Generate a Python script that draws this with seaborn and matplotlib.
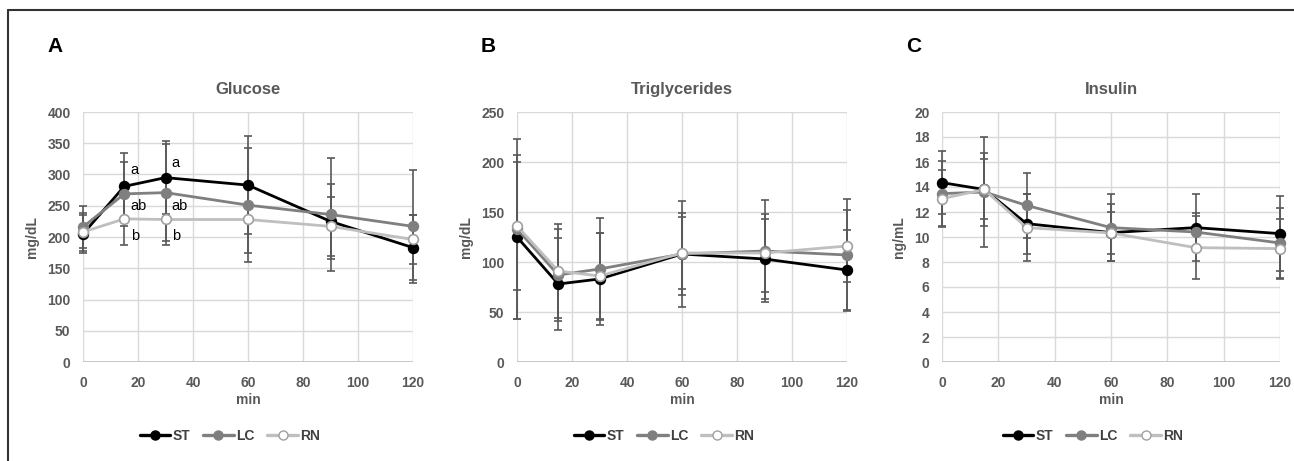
import numpy as np
import pandas as pd
import matplotlib
matplotlib.use("Agg")
import matplotlib.pyplot as plt
import seaborn as sns
from matplotlib.lines import Line2D

# sampling times (min)
times = [0, 15, 30, 60, 90, 120]
groups = ["ST", "LC", "RN"]

# Glucose (mg/dL), mean and SD
glu_st = [205, 281, 295, 283, 225, 183]
glu_lc = [216, 269, 271, 251, 236, 217]
glu_rn = [208, 229, 228, 228, 217, 196]
glu_st_sd = [30, 53, 58, 79, 60, 52]
glu_lc_sd = [34, 51, 78, 91, 90, 90]
glu_rn_sd = [30, 41, 40, 53, 47, 39]

# Triglycerides (mg/dL)
tg_st = [125, 78, 83, 108, 103, 92]
tg_lc = [133, 87, 93, 108, 111, 107]
tg_rn = [136, 91, 86, 109, 109, 116]
tg_st_sd = [82, 46, 46, 41, 40, 40]
tg_lc_sd = [90, 46, 51, 53, 51, 56]
tg_rn_sd = [64, 47, 43, 36, 39, 36]

# Insulin (ng/mL)
ins_st = [14.35, 13.8, 11.07, 10.35, 10.75, 10.27]
ins_lc = [13.47, 13.6, 12.53, 10.75, 10.4, 9.52]
ins_rn = [13.07, 13.8, 10.75, 10.32, 9.15, 9.07]
ins_st_sd = [2.5, 2.9, 2.4, 2.3, 2.7, 3.0]
ins_lc_sd = [2.6, 4.4, 2.6, 2.7, 1.5, 2.8]
ins_rn_sd = [2.3, 2.4, 2.7, 1.7, 2.5, 2.4]

# significance letters on glucose panel
sig_times = [15, 15, 15, 30, 30, 30]
sig_vals = [307, 250, 201, 318, 250, 201]
sig_text = ["a", "ab", "b", "a", "ab", "b"]

sns.set_style("white")
plt.rcParams["font.family"] = ["Liberation Sans", "DejaVu Sans"]

W, H = 1294, 461
fig = plt.figure(figsize=(W / 100, H / 100), dpi=100)

line_col = {"ST": "#000000", "LC": "#7f7f7f", "RN": "#bfbfbf"}
face_col = {"ST": "#000000", "LC": "#7f7f7f", "RN": "#ffffff"}
edge_col = {"ST": "#000000", "LC": "#7f7f7f", "RN": "#a0a0a0"}
txt_grey = "#595959"
err_col = "#595959"


def make_df(st, lc, rn):
    rows = []
    for g, vals in zip(groups, [st, lc, rn]):
        for t, v in zip(times, vals):
            rows.append({"min": t, "group": g, "value": v})
    return pd.DataFrame(rows)


def draw_panel(px_left, px_right, letter, title, ylabel, means, sds, ymax, ystep):
    ax = fig.add_axes([px_left / W, (H - 362) / H, (px_right - px_left) / W, 250 / H])
    df = make_df(*means)
    for g, m, s in zip(groups, means, sds):
        ax.errorbar(times, m, yerr=s, fmt="none", ecolor=err_col, elinewidth=1.2,
                    capsize=3, capthick=1.2, zorder=2, clip_on=False)
    for g in groups:
        sns.lineplot(data=df[df["group"] == g], x="min", y="value", ax=ax,
                     color=line_col[g], linewidth=2, marker="o", markersize=7,
                     markerfacecolor=face_col[g], markeredgecolor=edge_col[g],
                     markeredgewidth=1.2, zorder=3, clip_on=False, legend=False)
    ax.set_xlim(0, 120)
    ax.set_ylim(0, ymax)
    ax.set_xticks(np.arange(0, 121, 20))
    ax.set_yticks(np.arange(0, ymax + ystep / 2, ystep))
    ax.grid(True, color="#d9d9d9", linewidth=1)
    for sp in ax.spines.values():
        sp.set_visible(False)
    ax.axhline(0, color="#bfbfbf", linewidth=1.2, zorder=1)
    ax.tick_params(length=0, labelsize=10, labelcolor=txt_grey)
    ax.tick_params(axis="x", pad=10)
    ax.tick_params(axis="y", pad=9)
    for lab in ax.get_xticklabels() + ax.get_yticklabels():
        lab.set_fontweight("bold")
    ax.set_xlabel("min", fontsize=10, fontweight="bold", color=txt_grey, labelpad=2)
    ax.set_ylabel(ylabel, fontsize=10, fontweight="bold", color=txt_grey, labelpad=6)
    ax.set_title(title, fontsize=12, fontweight="bold", color=txt_grey, pad=13)
    fig.text((px_left - 36) / W, (H - 46) / H, letter, fontsize=15, fontweight="bold",
             color="black", va="center")
    handles = [Line2D([0], [0], color=line_col[g], linewidth=2.4, marker="o", markersize=6.5,
                      markerfacecolor=face_col[g], markeredgecolor=edge_col[g])
               for g in groups]
    leg = ax.legend(handles, groups, loc="center", ncol=3, frameon=False,
                    bbox_to_anchor=((0.5 * (px_left + px_right) - 18) / W, (H - 436) / H),
                    bbox_transform=fig.transFigure, handlelength=2.2, handletextpad=0.2,
                    columnspacing=0.9, prop={"size": 10, "weight": "bold"})
    for t in leg.get_texts():
        t.set_color("#404040")
    return ax


ax_a = draw_panel(83, 413, "A", "Glucose", "mg/dL", [glu_st, glu_lc, glu_rn],
                  [glu_st_sd, glu_lc_sd, glu_rn_sd], 400, 50)
ax_b = draw_panel(517, 847, "B", "Triglycerides", "mg/dL", [tg_st, tg_lc, tg_rn],
                  [tg_st_sd, tg_lc_sd, tg_rn_sd], 250, 50)
ax_c = draw_panel(942, 1280, "C", "Insulin", "ng/mL", [ins_st, ins_lc, ins_rn],
                  [ins_st_sd, ins_lc_sd, ins_rn_sd], 20, 2)

for t, v, s in zip(sig_times, sig_vals, sig_text):
    ax_a.text(t + 2.3, v, s, fontsize=10.5, color="black", va="center", ha="left")

# outer frame: top and left edges only
fig.add_artist(Line2D([8 / W, 1.0], [(H - 10) / H, (H - 10) / H], transform=fig.transFigure,
                      color="#333333", linewidth=1.5))
fig.add_artist(Line2D([8 / W, 8 / W], [0, (H - 10) / H], transform=fig.transFigure,
                      color="#333333", linewidth=1.5))

fig.savefig("out.png", dpi=100)
